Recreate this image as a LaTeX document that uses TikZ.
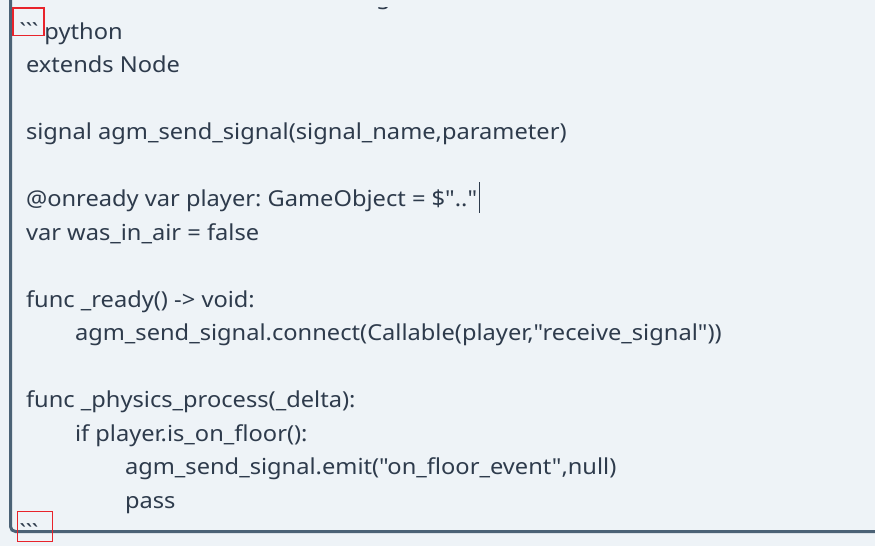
\documentclass[tikz,border=0pt]{standalone}
\usepackage{fontspec}
\newfontfamily\codefont{Noto Sans}[FakeStretch=1.075]
\definecolor{bgc}{HTML}{EEF3F7}
\definecolor{txt}{HTML}{2E3B4C}
\definecolor{bord}{HTML}{4B6276}
\definecolor{redm}{HTML}{E8232B}
\begin{document}
\frenchspacing
\begin{tikzpicture}[x=1pt,y=-1pt,
  codeline/.style={anchor=base west,inner sep=0pt,outer sep=0pt,text=txt,font=\codefont\fontsize{22}{26}\selectfont},
  markbox/.style={draw=redm,line width=1.4pt}]
\useasboundingbox (0,0) rectangle (875,546);
\fill[bgc] (0,0) rectangle (875,546);
\begin{scope}
\clip (0,7.3) rectangle (875,11);
\node[codeline] (top) at (376,4.5) {g};
\end{scope}
\draw[bord,line width=3pt,rounded corners=5pt] (10.5,-2) -- (10.5,531.5) -- (880,531.5);
\node[codeline] (l1) at (26,39) {\`{}\`{}\`{}python};
\node[codeline] (l2) at (26,72.5) {extends Node};
\node[codeline] (l3) at (26,139.5) {signal agm\_send\_signal(signal\_name,parameter)};
\node[codeline] (l4) at (26,206.5) {@onready var player: GameObject = \$".."};
\node[codeline] (l5) at (26,240) {var was\_in\_air = false};
\node[codeline] (l6) at (26,307) {func \_ready() -> void:};
\node[codeline] (l7) at (75,340.5) {agm\_send\_signal.connect(Callable(player,"receive\_signal"))};
\node[codeline] (l8) at (26,407.5) {func \_physics\_process(\_delta):};
\node[codeline] (l9) at (75,441) {if player.is\_on\_floor():};
\node[codeline] (l10) at (125,474.5) {agm\_send\_signal.emit("on\_floor\_event",null)};
\node[codeline] (l11) at (125,508) {pass};
\node[codeline] (l12) at (26,540) {\`{}\`{}\`{}};
\draw[txt,line width=1pt] (479,182) -- (479,213);
\draw[markbox] (13,7.8) rectangle (44,35.2);
\draw[markbox] (17.2,511.2) rectangle (52.2,541.2);
\end{tikzpicture}
\end{document}
